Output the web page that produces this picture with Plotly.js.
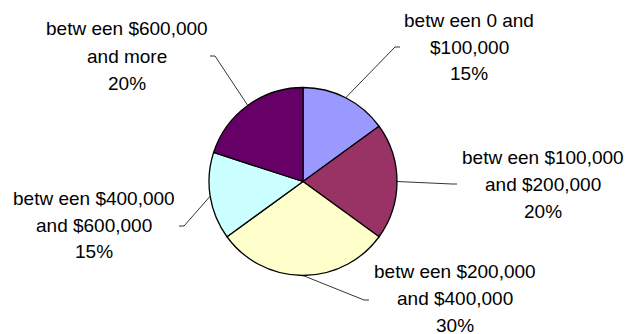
<!DOCTYPE html>
<html>
<head>
<meta charset="utf-8">
<script src="https://cdn.plot.ly/plotly-3.0.1.min.js"></script>
<style>html,body{margin:0;padding:0;background:#fff}#chart{width:625px;height:334px}</style>
</head>
<body>
<div id="chart"></div>
<script>
// ---- data ----
const categories = [
  "betw een 0 and<br>$100,000",
  "betw een $100,000<br>and $200,000",
  "betw een $200,000<br>and $400,000",
  "betw een $400,000<br>and $600,000",
  "betw een $600,000<br>and more"
];
const values = [15, 20, 30, 15, 20];
const colors = ["#9999FF", "#993366", "#FFFFCC", "#CCFFFF", "#660066"];

// ---- layout constants (pixels) ----
const W = 625, H = 334;
const CX = 303, CY = 181.5, R = 94;
const FONT = {family: "Liberation Sans, Arial, sans-serif", size: 19, color: "#000"};
const LINE_GAP = 27;
// label block centre (middle line) and leader-line elbow for each slice
const labelPos = [
  {x: 469, y: 47,  ex: 395, ey: 47,  tx: 400},
  {x: 543, y: 184, ex: 452, ey: 184, tx: 457},
  {x: 455, y: 298, ex: 364, ey: 300, tx: 369},
  {x: 94,  y: 225, ex: 184, ey: 226, tx: 179},
  {x: 126.5, y: 56, ex: 215, ey: 56, tx: 210}
];

const px = v => v / W;
const py = v => 1 - v / H;

const total = values.reduce((a, b) => a + b, 0);
const annotations = [];
const shapes = [];
let cum = 0;
values.forEach((v, i) => {
  const mid = (cum + v / 2) / total;
  cum += v;
  const ang = mid * 2 * Math.PI; // clockwise from 12 o'clock
  const edgeX = CX + R * Math.sin(ang);
  const edgeY = CY - R * Math.cos(ang);
  const lp = labelPos[i];
  const lines = categories[i].split("<br>").concat([Math.round(v / total * 100) + "%"]);
  lines.forEach((t, k) => {
    annotations.push({
      xref: "paper", yref: "paper",
      x: px(lp.x), y: py(lp.y + (k - 1) * LINE_GAP),
      xanchor: "center", yanchor: "middle",
      text: t, showarrow: false, font: FONT
    });
  });
  shapes.push({
    type: "path", xref: "paper", yref: "paper",
    path: `M ${px(edgeX)} ${py(edgeY)} L ${px(lp.ex)} ${py(lp.ey)} L ${px(lp.tx)} ${py(lp.ey)}`,
    line: {color: "#000", width: 0.8}
  });
});

const trace = {
  type: "pie",
  labels: categories,
  values: values,
  sort: false,
  direction: "clockwise",
  rotation: 0,
  textinfo: "none",
  hoverinfo: "skip",
  marker: {colors: colors, line: {color: "#000", width: 1.3}},
  domain: {x: [px(CX - R), px(CX + R)], y: [1 - (CY + R) / H, 1 - (CY - R) / H]}
};

Plotly.newPlot("chart", [trace], {
  width: W, height: H,
  margin: {l: 0, r: 0, t: 0, b: 0},
  paper_bgcolor: "#fff",
  showlegend: false,
  annotations: annotations,
  shapes: shapes
}, {staticPlot: true});
</script>
</body>
</html>
